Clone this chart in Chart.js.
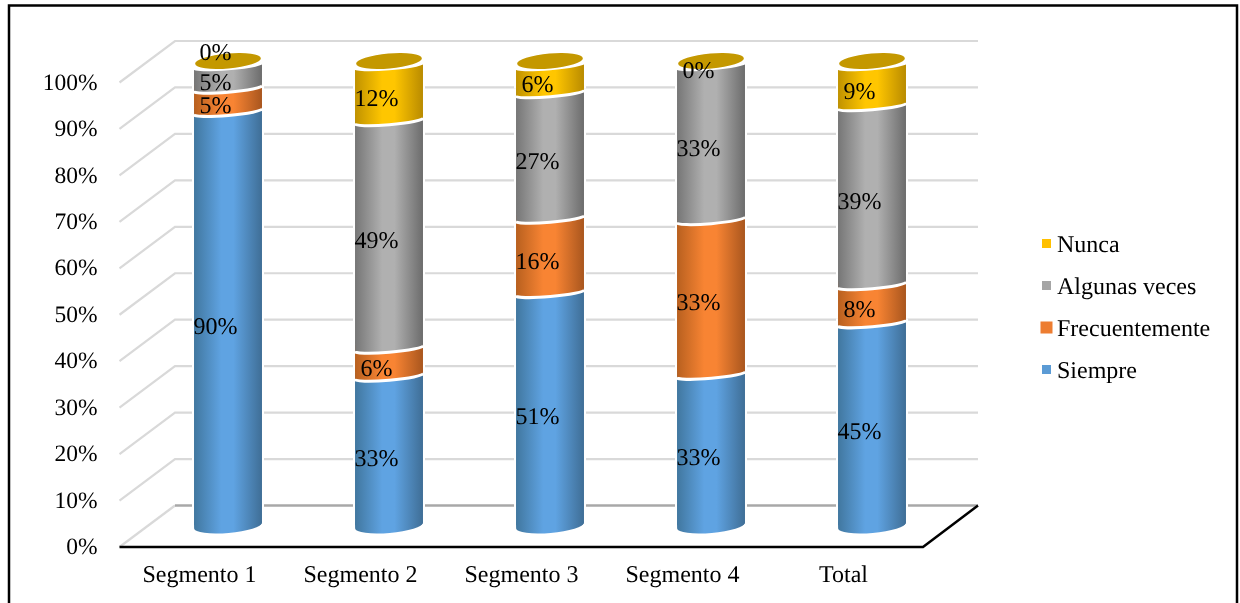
<!DOCTYPE html>
<html>
<head>
<meta charset="utf-8">
<title>Segmentos</title>
<style>
  html, body { margin: 0; padding: 0; background: #fff; }
  canvas { display: block; }
</style>
<script src="https://cdn.jsdelivr.net/npm/chart.js@4"></script>
</head>
<body>
<canvas id="segmentChart" width="1240" height="603"></canvas>
<script>
//#region DATA
const categories = ["Segmento 1", "Segmento 2", "Segmento 3", "Segmento 4", "Total"];
const siempre = [90, 33, 51, 33.4, 44.5];
const frecuentemente = [5, 6, 16, 33.3, 8.2];
const algunasVeces = [5, 49, 27, 33.3, 38.5];
const nunca = [0, 12, 6, 0, 8.8];
//#endregion

//#region STYLE
const FONT = '24px "Liberation Serif"';
const BAR_RX = 34;
const TILT = -0.085;
const CAP_COLOR = "#C49800";
// left edge, highlight, right edge of each cylinder
const blueShade = ["#41779F", "#5FA3E2", "#3F6E96"];
const orangeShade = ["#B8601F", "#F88433", "#A9561E"];
const grayShade = ["#767676", "#B0B0B0", "#6C6C6C"];
const yellowShade = ["#C09200", "#FFC600", "#B98B00"];
//#endregion

function sideGradient(ctx, cx, shade) {
  const g = ctx.createLinearGradient(cx - BAR_RX, 0, cx + BAR_RX, 0);
  g.addColorStop(0, shade[0]);
  g.addColorStop(0.4, shade[1]);
  g.addColorStop(0.58, shade[1]);
  g.addColorStop(1, shade[2]);
  return g;
}

function barFill(shade) {
  return function (context) {
    const chart = context.chart;
    if (!chart.chartArea) return shade[1];
    return sideGradient(chart.ctx, chart.scales.x.getPixelForValue(context.dataIndex), shade);
  };
}

function seriesOf(label, data, shade, legendColor) {
  return {
    label: label,
    data: data,
    shade: shade,
    legendColor: legendColor,
    backgroundColor: barFill(shade),
    borderColor: "#fff",
    borderWidth: { left: 2, right: 2, top: 0, bottom: 0 },
    borderSkipped: false,
    barPercentage: 0.447,
    categoryPercentage: 1,
  };
}

// rounded front edge where a segment sits on the one below
function drawFrontEdge(ctx, bar, shade, isBase) {
  const sag = isBase ? 7.5 : 4;
  const cy = isBase ? bar.base : bar.base + 8 - sag;
  ctx.beginPath();
  ctx.moveTo(bar.x - BAR_RX, bar.base - 4);
  ctx.ellipse(bar.x, cy, BAR_RX, sag, TILT, Math.PI, 0, true);
  ctx.lineTo(bar.x + BAR_RX, bar.base - 4);
  ctx.closePath();
  ctx.fillStyle = sideGradient(ctx, bar.x, shade);
  ctx.fill();
  if (!isBase) {
    ctx.beginPath();
    ctx.ellipse(bar.x, cy, BAR_RX + 1, sag, TILT, Math.PI, 0, true);
    ctx.strokeStyle = "#fff";
    ctx.lineWidth = 3;
    ctx.stroke();
  }
}

function drawCap(ctx, bar) {
  const sag = 4;
  const cy = bar.y + 8 - sag;
  ctx.beginPath();
  ctx.moveTo(bar.x - BAR_RX - 2, bar.y - 2);
  ctx.ellipse(bar.x, cy, BAR_RX + 1, sag, TILT, Math.PI, 0, true);
  ctx.lineTo(bar.x + BAR_RX + 2, bar.y - 2);
  ctx.closePath();
  ctx.fillStyle = "#fff";
  ctx.strokeStyle = "#fff";
  ctx.lineWidth = 2.5;
  ctx.fill();
  ctx.stroke();

  ctx.beginPath();
  ctx.ellipse(bar.x, bar.y, BAR_RX - 1, 7.5, TILT, 0, Math.PI * 2);
  ctx.fillStyle = CAP_COLOR;
  ctx.fill();
}

const cylinderPlugin = {
  id: "cylinderPlugin",
  beforeDraw(chart) {
    const ctx = chart.ctx;
    ctx.textRendering = "geometricPrecision";
    ctx.save();
    ctx.fillStyle = "#fff";
    ctx.fillRect(0, 0, chart.width, chart.height);
    // outer frame runs past the bottom of the canvas
    ctx.strokeStyle = "#000";
    ctx.lineWidth = 2.5;
    ctx.strokeRect(9, 5.5, 1228, 620);
    ctx.restore();
  },
  beforeDatasetsDraw(chart) {
    const ctx = chart.ctx;
    const y = chart.scales.y;
    const area = chart.chartArea;
    const backL = area.left + 27.5;
    const backR = area.right + 25.5;
    const frontL = area.left - 28;
    const frontR = area.right - 29.5;
    ctx.save();
    y.ticks.forEach(function (tick) {
      const py = y.getPixelForValue(tick.value);
      ctx.strokeStyle = "#D9D9D9";
      ctx.lineWidth = 2.2;
      ctx.beginPath();
      ctx.moveTo(frontL, py + 21.5);
      ctx.lineTo(backL, py - 20);
      if (tick.value > 0) ctx.lineTo(backR, py - 20);
      ctx.stroke();
    });
    const zero = y.getPixelForValue(0);
    ctx.strokeStyle = "#A8A8A8";
    ctx.lineWidth = 2.5;
    ctx.beginPath();
    ctx.moveTo(backL, zero - 20);
    ctx.lineTo(backR, zero - 20);
    ctx.stroke();
    ctx.strokeStyle = "#000";
    ctx.lineWidth = 2.5;
    ctx.beginPath();
    ctx.moveTo(frontL, zero + 21.5);
    ctx.lineTo(frontR, zero + 21.5);
    ctx.lineTo(backR, zero - 20);
    ctx.stroke();
    ctx.restore();
  },
  afterDatasetsDraw(chart) {
    const ctx = chart.ctx;
    const datasets = chart.data.datasets;
    ctx.save();

    // front edges go bottom segment first so each one overlaps the segment below
    datasets.forEach(function (ds, d) {
      chart.getDatasetMeta(d).data.forEach(function (bar) {
        if (Math.abs(bar.base - bar.y) < 0.5) return;
        drawFrontEdge(ctx, bar, ds.shade, d === 0);
      });
    });
    chart.getDatasetMeta(datasets.length - 1).data.forEach(function (bar) {
      drawCap(ctx, bar);
    });

    // value labels
    ctx.font = FONT;
    ctx.fillStyle = "#000";
    ctx.textAlign = "center";
    ctx.textBaseline = "middle";
    datasets.forEach(function (ds, d) {
      chart.getDatasetMeta(d).data.forEach(function (bar, i) {
        const liftTop = d === datasets.length - 1 && i === 0 ? -18 : 0;
        const mid = (bar.y + bar.base) / 2;
        ctx.fillText(Math.round(ds.data[i]) + "%", bar.x - 12.5, mid + 11 + liftTop);
      });
    });

    // legend, last series first
    ctx.textAlign = "left";
    datasets.slice().reverse().forEach(function (ds, row) {
      const ly = 243.5 + row * 42;
      const box = ds.shade === orangeShade ? 12 : 9;
      ctx.fillStyle = ds.legendColor;
      ctx.fillRect(1046.5 - box / 2, ly - box / 2, box, box);
      ctx.fillStyle = "#000";
      ctx.fillText(ds.label, 1057, ly + 2);
    });
    ctx.restore();
  },
};

//#region RENDER
function segmentGraph() {
  const series = [
    seriesOf("Siempre", siempre, blueShade, "#5B9BD5"),
    seriesOf("Frecuentemente", frecuentemente, orangeShade, "#ED7D31"),
    seriesOf("Algunas veces", algunasVeces, grayShade, "#A5A5A5"),
    seriesOf("Nunca", nunca, yellowShade, "#FFC000"),
  ];
  // keeps the bar corner from poking out past the curved base
  series[0].borderRadius = { bottomRight: 6, bottomLeft: 0, topLeft: 0, topRight: 0 };

  const ctx = document.getElementById("segmentChart").getContext("2d");
  new Chart(ctx, {
    type: "bar",
    data: { labels: categories, datasets: series },
    options: {
      responsive: false,
      animation: false,
      layout: { padding: { left: 0, right: 287.5, top: 61, bottom: 0 } },
      scales: {
        x: {
          stacked: true,
          grid: { display: false },
          border: { display: false },
          ticks: {
            color: "#000",
            padding: 28,
            labelOffset: -28.5,
            maxRotation: 0,
            font: { family: '"Liberation Serif"', size: 24 },
          },
          afterFit(scale) {
            scale.height = 77.5;
            scale.paddingLeft = 0;
            scale.paddingRight = 0;
          },
        },
        y: {
          stacked: true,
          min: 0,
          max: 100,
          grid: { display: false },
          border: { display: false },
          ticks: {
            stepSize: 10,
            color: "#000",
            padding: 42,
            labelOffset: 22.5,
            font: { family: '"Liberation Serif"', size: 23.5 },
            callback: function (value) {
              return value + "%";
            },
          },
          afterFit(scale) {
            scale.width = 147.5;
            scale.paddingTop = 0;
            scale.paddingBottom = 0;
          },
        },
      },
      plugins: {
        legend: { display: false },
        tooltip: { enabled: false },
      },
    },
    plugins: [cylinderPlugin],
  });
}
//#endregion

segmentGraph();
</script>
</body>
</html>
